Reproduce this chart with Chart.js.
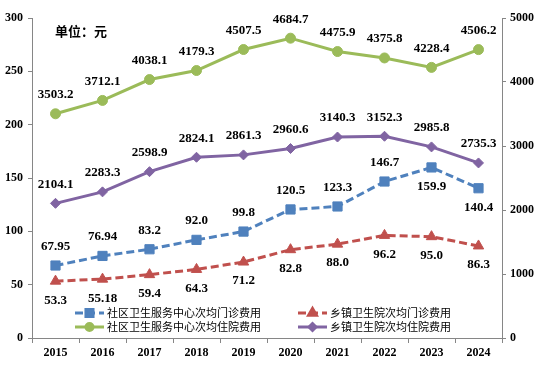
<!DOCTYPE html>
<html>
<head>
<meta charset="utf-8">
<script src="https://cdn.jsdelivr.net/npm/chart.js@4/dist/chart.umd.min.js"></script>
<style>
  html, body { margin: 0; padding: 0; background: #fff; }
</style>
</head>
<body>
<canvas id="costChart" width="554" height="372"></canvas>
<script>
// categories and series
var years = ['2015', '2016', '2017', '2018', '2019', '2020', '2021', '2022', '2023', '2024'];
var communityOutpatient = [67.95, 76.94, 83.2, 92.0, 99.8, 120.5, 123.3, 146.7, 159.9, 140.4];
var townshipOutpatient = [53.3, 55.18, 59.4, 64.3, 71.2, 82.8, 88.0, 96.2, 95.0, 86.3];
var communityInpatient = [3503.2, 3712.1, 4038.1, 4179.3, 4507.5, 4684.7, 4475.9, 4375.8, 4228.4, 4506.2];
var townshipInpatient = [2104.1, 2283.3, 2598.9, 2824.1, 2861.3, 2960.6, 3140.3, 3152.3, 2985.8, 2735.3];
var seriesNames = ['社区卫生服务中心次均门诊费用', '乡镇卫生院次均门诊费用', '社区卫生服务中心次均住院费用', '乡镇卫生院次均住院费用'];
var leftTicks = [0, 50, 100, 150, 200, 250, 300];
var rightTicks = [0, 1000, 2000, 3000, 4000, 5000];

// where each value label sits relative to its point (1 = above, -1 = below)
var labelSide = [
    [1, 1, 1, 1, 1, 1, 1, 1, -1, -1],
    [-1, -1, -1, -1, -1, -1, -1, -1, -1, -1],
    [1, 1, 1, 1, 1, 1, 1, 1, 1, 1],
    [1, 1, 1, 1, 1, 1, 1, 1, 1, 1]
];

var numFont = 'bold 13px "Liberation Serif", "Times New Roman", serif';
var axisColor = '#868686';

function fmt(v) {
    if (Math.abs(v * 10 - Math.round(v * 10)) < 1e-6) return v.toFixed(1);
    return v.toFixed(2);
}

var valueLabels = {
    id: 'valueLabels',
    afterDatasetsDraw: function (chart) {
        var ctx = chart.ctx;
        ctx.save();
        ctx.font = numFont;
        ctx.fillStyle = '#000';
        ctx.textAlign = 'center';
        ctx.textBaseline = 'middle';
        chart.data.datasets.forEach(function (ds, i) {
            var meta = chart.getDatasetMeta(i);
            meta.data.forEach(function (pt, j) {
                var side = labelSide[i][j];
                ctx.fillText(fmt(ds.data[j]), pt.x, pt.y - side * 19);
            });
        });
        ctx.restore();
    }
};

var boxLegend = {
    id: 'boxLegend',
    afterDraw: function (chart) {
        var ctx = chart.ctx;
        var ds = chart.data.datasets;
        var spots = [[75, 313], [298, 313], [75, 327], [298, 327]];
        ctx.save();
        ds.forEach(function (d, k) {
            var x = spots[k][0], y = spots[k][1];
            ctx.strokeStyle = d.borderColor;
            ctx.lineWidth = 3;
            ctx.setLineDash(d.borderDash || []);
            ctx.beginPath();
            ctx.moveTo(x, y);
            ctx.lineTo(x + 29, y);
            ctx.stroke();
            ctx.setLineDash([]);
            ctx.fillStyle = d.pointBackgroundColor;
            Chart.helpers.drawPoint(ctx, {
                pointStyle: d.pointStyle,
                radius: d.pointRadius - 1.5,
                rotation: 0,
                borderWidth: 1
            }, x + 14.5, y);
            ctx.fillStyle = '#000';
            ctx.font = '11px "Noto Sans CJK SC", sans-serif';
            ctx.textAlign = 'left';
            ctx.textBaseline = 'middle';
            ctx.fillText(d.label, x + 32, y);
        });
        ctx.font = 'bold 13px "Noto Sans CJK SC", sans-serif';
        ctx.textAlign = 'left';
        ctx.textBaseline = 'middle';
        ctx.fillText('单位：元', 55, 31);
        ctx.restore();
    }
};

var tickFont = { family: '"Liberation Serif", "Times New Roman", serif', weight: 'bold', size: 12 };
var plainTick = function (v) { return String(v); };

var ctx = document.getElementById('costChart').getContext('2d');
var costChart = new Chart(ctx, {
    type: 'line',
    data: {
        labels: years,
        datasets: [{
            label: seriesNames[0],
            data: communityOutpatient,
            yAxisID: 'y',
            borderColor: '#4F81BD',
            backgroundColor: '#4F81BD',
            pointBackgroundColor: '#4F81BD',
            borderWidth: 3,
            borderDash: [8, 4],
            pointStyle: 'rect',
            pointRadius: 6.5,
            pointBorderWidth: 1
        }, {
            label: seriesNames[1],
            data: townshipOutpatient,
            yAxisID: 'y',
            borderColor: '#C0504D',
            backgroundColor: '#C0504D',
            pointBackgroundColor: '#C0504D',
            borderWidth: 3,
            borderDash: [8, 4],
            pointStyle: 'triangle',
            pointRadius: 6,
            pointBorderWidth: 1
        }, {
            label: seriesNames[2],
            data: communityInpatient,
            yAxisID: 'y1',
            borderColor: '#9BBB59',
            backgroundColor: '#9BBB59',
            pointBackgroundColor: '#9BBB59',
            borderWidth: 3,
            pointStyle: 'circle',
            pointRadius: 5,
            pointBorderWidth: 1
        }, {
            label: seriesNames[3],
            data: townshipInpatient,
            yAxisID: 'y1',
            borderColor: '#8064A2',
            backgroundColor: '#8064A2',
            pointBackgroundColor: '#8064A2',
            borderWidth: 3,
            pointStyle: 'rectRot',
            pointRadius: 5,
            pointBorderWidth: 1
        }]
    },
    options: {
        responsive: false,
        animation: false,
        devicePixelRatio: 1,
        layout: { padding: { top: 18 } },
        plugins: {
            legend: { display: false },
            tooltip: { enabled: false }
        },
        scales: {
            x: {
                offset: true,
                grid: { drawOnChartArea: false, offset: true, tickLength: 5, color: axisColor },
                border: { color: axisColor, width: 1 },
                ticks: { font: tickFont, color: '#000', padding: 3 },
                afterFit: function (s) { s.height = 34; }
            },
            y: {
                position: 'left',
                min: 0,
                max: 300,
                afterBuildTicks: function (s) { s.ticks = leftTicks.map(function (v) { return { value: v }; }); },
                grid: { drawOnChartArea: false, tickLength: 4, color: axisColor },
                border: { color: axisColor, width: 1 },
                ticks: { font: tickFont, color: '#000', padding: 5, callback: plainTick },
                afterFit: function (s) { s.width = 32; }
            },
            y1: {
                position: 'right',
                min: 0,
                max: 5000,
                afterBuildTicks: function (s) { s.ticks = rightTicks.map(function (v) { return { value: v }; }); },
                grid: { drawOnChartArea: false, tickLength: 4, color: axisColor },
                border: { color: axisColor, width: 1 },
                ticks: { font: tickFont, color: '#000', padding: 4, callback: plainTick },
                afterFit: function (s) { s.width = 52; }
            }
        }
    },
    plugins: [valueLabels, boxLegend]
});
</script>
</body>
</html>
